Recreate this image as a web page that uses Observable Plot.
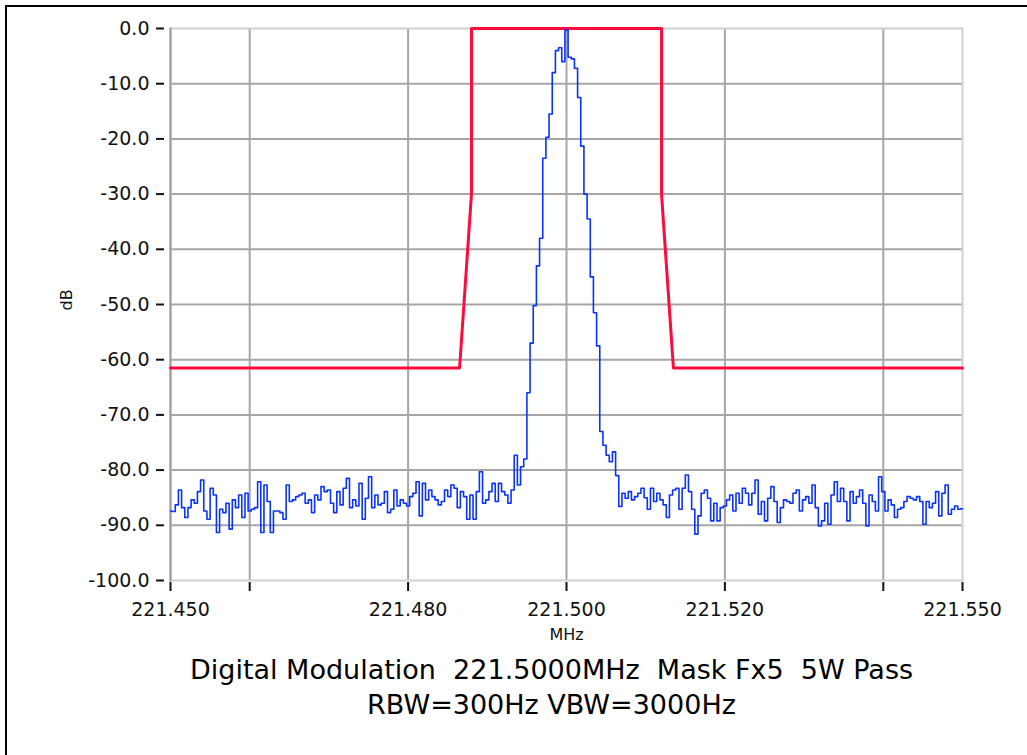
<!DOCTYPE html>
<html>
<head>
<meta charset="utf-8">
<script src="https://cdn.jsdelivr.net/npm/d3@7"></script>
<script src="https://cdn.jsdelivr.net/npm/@observablehq/plot@0.6"></script>
<style>
  html, body { margin: 0; padding: 0; background: #fff; }
  #page { position: relative; width: 1027px; height: 755px; overflow: hidden; background: #fff; }
  #border { position: absolute; left: 5px; top: 5px; width: 1100px; height: 900px;
            border-top: 2px solid #000; border-left: 2px solid #000; }
  #chart { position: absolute; left: 0; top: 0; }
  #title { position: absolute; left: 0; width: 1103px; top: 652px; text-align: center;
           font-family: "DejaVu Sans", Verdana, sans-serif; font-size: 27px; line-height: 35px;
           color: #000; white-space: pre; }
</style>
</head>
<body>
<div id="page">
  <div id="border"></div>
  <div id="chart"></div>
  <div id="title">Digital Modulation  221.5000MHz  Mask Fx5  5W Pass
RBW=300Hz VBW=3000Hz</div>
</div>
<script>
// ---- data ----
const freqStart = 221.450;   // MHz, first bin
const freqStop = 221.550;    // MHz, last bin
// measured trace (dB), one value per frequency bin, read from the picture
const traceDb = [
  -87.4, -87.5, -86.3, -83.6, -86.8, -88.6, -86.8, -85.4, -86.0, -83.9,
  -81.8, -87.4, -88.9, -83.3, -84.5, -91.3, -87.1, -87.7, -86.0, -90.7,
  -85.4, -86.8, -84.5, -88.6, -84.2, -87.4, -87.1, -86.8, -82.1, -91.3,
  -82.7, -85.7, -91.3, -87.4, -87.4, -87.7, -88.9, -82.7, -85.7, -85.4,
  -84.8, -84.5, -84.2, -86.0, -85.4, -87.7, -84.5, -85.4, -83.0, -83.9,
  -83.6, -86.0, -87.7, -83.9, -86.3, -83.3, -81.5, -86.8, -85.4, -86.5,
  -82.4, -88.9, -85.1, -81.2, -86.8, -84.5, -86.3, -86.0, -83.9, -87.7,
  -87.1, -83.6, -86.5, -85.4, -86.0, -86.5, -84.8, -84.2, -82.1, -88.3,
  -82.4, -85.4, -83.6, -84.8, -85.4, -86.3, -85.7, -83.6, -84.8, -82.7,
  -83.3, -86.8, -83.9, -84.8, -88.9, -84.5, -88.9, -83.9, -80.3, -86.0,
  -85.4, -83.9, -82.4, -85.7, -82.4, -83.9, -84.5, -86.0, -83.6, -77.3,
  -82.7, -79.4, -78.0, -66.0, -57.0, -50.2, -43.0, -38.0, -23.5, -19.7,
  -15.5, -8.0, -4.0, -3.5, -6.0, -0.3, -5.2, -5.5, -7.2, -12.5,
  -21.3, -30.0, -34.5, -45.0, -51.5, -57.5, -73.0, -75.5, -77.3, -78.5,
  -76.7, -81.0, -86.6, -84.2, -85.1, -83.9, -85.4, -84.8, -84.2, -83.3,
  -85.0, -87.1, -83.3, -85.7, -84.2, -85.4, -86.3, -88.6, -84.5, -83.6,
  -83.3, -87.1, -83.3, -80.9, -83.9, -87.1, -91.6, -88.3, -84.2, -83.6,
  -85.1, -89.2, -86.0, -89.2, -86.8, -86.5, -85.4, -84.5, -87.4, -84.2,
  -86.0, -83.3, -84.2, -86.3, -84.2, -81.8, -88.0, -85.7, -89.2, -85.1,
  -83.0, -85.7, -89.5, -86.8, -85.4, -85.7, -86.0, -84.2, -83.6, -87.4,
  -85.4, -84.8, -86.0, -82.7, -86.8, -90.1, -89.2, -86.0, -89.8, -84.5,
  -82.1, -85.7, -83.3, -85.7, -89.2, -83.9, -86.0, -84.8, -83.6, -86.0,
  -90.1, -84.5, -85.7, -87.4, -81.2, -83.9, -87.4, -85.4, -86.3, -88.6,
  -87.1, -86.8, -85.7, -84.8, -85.1, -85.4, -84.8, -85.7, -89.8, -85.7,
  -86.8, -86.0, -83.9, -88.3, -84.2, -82.7, -88.0, -87.1, -86.5, -87.1,
  -87.0
];
// spectral mask (red limit line)
const maskFreq = [221.450, 221.4865, 221.488, 221.488, 221.512, 221.512, 221.5135, 221.550];
const maskDb   = [-61.5,   -61.5,    -30.0,   0.0,     0.0,     -30.0,   -61.5,    -61.5];
// axes
const yTicks = [0, -10, -20, -30, -40, -50, -60, -70, -80, -90, -100];
const yGrid = [-10, -20, -30, -40, -50, -60, -70, -80, -90];
const xTicks = [221.450, 221.460, 221.480, 221.500, 221.520, 221.540, 221.550];
const xLabeled = ["221.450", "221.480", "221.500", "221.520", "221.550"];
const xGrid = [221.460, 221.480, 221.500, 221.520, 221.540];
const xLabel = "MHz";
const yLabel = "dB";

// ---- build tables ----
const n = traceDb.length;
const trace = traceDb.map((db, i) => ({f: freqStart + (freqStop - freqStart) * i / (n - 1), db}));
const mask = maskFreq.map((f, i) => ({f, db: maskDb[i]}));

const chart = Plot.plot({
  width: 1027,
  height: 650,
  marginLeft: 170,
  marginRight: 65,
  marginTop: 28,
  marginBottom: 70,
  x: {domain: [221.45, 221.55]},
  y: {domain: [-100, 0]},
  style: {fontFamily: "DejaVu Sans, Verdana, sans-serif", fontSize: "19px", color: "#111", background: "transparent", overflow: "visible"},
  marks: [
    Plot.gridY(yGrid, {stroke: "#a6a6a6", strokeOpacity: 1, strokeWidth: 2}),
    Plot.gridX(xGrid, {stroke: "#a6a6a6", strokeOpacity: 1, strokeWidth: 2}),
    Plot.frame({stroke: "#d0d0d0", strokeWidth: 2}),
    Plot.frame({anchor: "left", stroke: "#9a9a9a", strokeWidth: 2}),
    Plot.axisY({ticks: yTicks, tickFormat: d => d.toFixed(1), tickSize: 8, tickPadding: 7, dx: -6,
                stroke: "#111", strokeWidth: 2, fill: "#111", label: null}),
    Plot.axisX({ticks: xTicks, tickFormat: d => { const s = d.toFixed(3); return xLabeled.includes(s) ? s : ""; },
                tickSize: 9, tickPadding: 11, dy: 2, stroke: "#111", strokeWidth: 2, fill: "#111", label: null}),
    Plot.text([yLabel], {frameAnchor: "left", dx: -104, dy: 6, rotate: -90, fontSize: 16, fill: "#111"}),
    Plot.text([xLabel], {frameAnchor: "bottom", dy: 59, fontSize: 16, fill: "#111"}),
    Plot.line(mask, {x: "f", y: "db", stroke: "#ff0a3c", strokeWidth: 3}),
    Plot.line(trace, {x: "f", y: "db", stroke: "#0a32ff", strokeWidth: 1.6, curve: "step"})
  ]
});
document.getElementById("chart").appendChild(chart);
</script>
</body>
</html>
